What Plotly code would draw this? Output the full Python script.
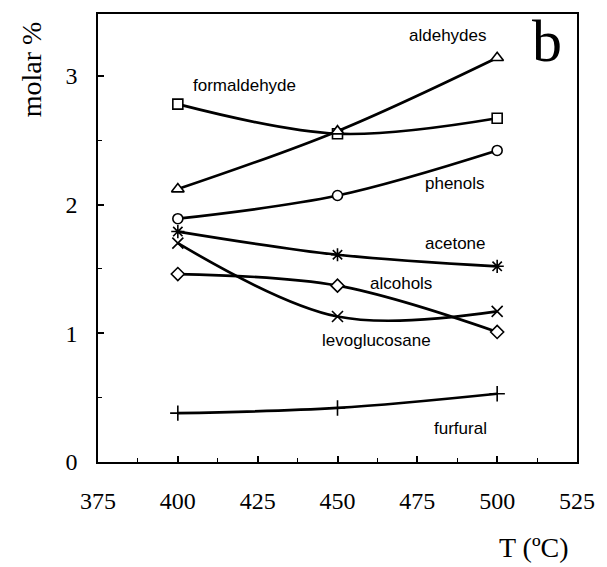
import plotly.graph_objects as go

temps = [400, 450, 500]
formaldehyde = [2.78, 2.55, 2.67]
aldehydes = [2.12, 2.57, 3.14]
phenols = [1.89, 2.07, 2.42]
acetone = [1.79, 1.61, 1.52]
levoglucosane = [1.70, 1.13, 1.17]
alcohols = [1.46, 1.37, 1.01]
furfural = [0.38, 0.42, 0.53]

series = [
    ("formaldehyde", formaldehyde, "square", 10),
    ("aldehydes", aldehydes, "triangle-up", 11),
    ("phenols", phenols, "circle", 10),
    ("acetone", acetone, "asterisk", 11),
    ("levoglucosane", levoglucosane, "x-thin", 11),
    ("alcohols", alcohols, "diamond", 10),
    ("furfural", furfural, "cross-thin", 11),
]

fig = go.Figure()
for name, vals, sym, sz in series:
    fig.add_trace(go.Scatter(
        x=temps, y=vals, mode="lines+markers", name=name,
        line=dict(color="black", width=2.7, shape="spline", smoothing=1.0),
        marker=dict(symbol=sym, size=sz, color="white",
                    line=dict(color="black", width=1.6)),
        showlegend=False,
    ))

labels = [
    ("aldehydes", 455, 35),
    ("formaldehyde", 248, 85),
    ("phenols", 462, 183),
    ("acetone", 463, 243),
    ("alcohols", 407, 283),
    ("levoglucosane", 382, 340),
    ("furfural", 468, 428),
]
annotations = []
for txt, px, py in labels:
    annotations.append(dict(
        text=txt, xref="paper", yref="paper",
        x=(px - 98) / (587 - 98), y=(462 - py) / (462 - 13),
        showarrow=False, xanchor="center", yanchor="middle",
        font=dict(family="Liberation Sans, Arial", size=17, color="black"),
    ))
annotations.append(dict(
    text="b", xref="paper", yref="paper",
    x=(556 - 98) / (587 - 98), y=(462 - 40) / (462 - 13),
    showarrow=False, xanchor="center", yanchor="middle",
    font=dict(family="Liberation Serif, Times New Roman", size=60, color="black"),
))
annotations.append(dict(
    text="T (ºC)", xref="paper", yref="paper",
    x=(543 - 98) / (587 - 98), y=(462 - 548) / (462 - 13),
    showarrow=False, xanchor="center", yanchor="middle",
    font=dict(family="Liberation Serif, Times New Roman", size=28, color="black"),
))
annotations.append(dict(
    text="molar %", xref="paper", yref="paper",
    x=(30 - 98) / (587 - 98), y=(462 - 68) / (462 - 13),
    showarrow=False, xanchor="center", yanchor="middle", textangle=-90,
    font=dict(family="Liberation Serif, Times New Roman", size=28, color="black"),
))

fig.update_layout(
    width=607, height=567,
    margin=dict(l=98, r=20, t=13, b=105),
    paper_bgcolor="white", plot_bgcolor="white",
    annotations=annotations,
    xaxis=dict(
        range=[375, 525], tickvals=[375, 400, 425, 450, 475, 500, 525],
        ticks="inside", ticklen=6, tickwidth=1.5, tickcolor="black",
        minor=dict(dtick=12.5, tick0=375, ticks="inside", ticklen=4, tickcolor="black", tickwidth=1.2),
        showline=True, linecolor="black", linewidth=1.5, mirror=True,
        showgrid=False, zeroline=False,
        tickfont=dict(family="Liberation Serif, Times New Roman", size=24, color="black"),
        ticklabelstandoff=16,
    ),
    yaxis=dict(
        range=[0, 3.48], tickvals=[0, 1, 2, 3],
        ticks="inside", ticklen=6, tickwidth=1.5, tickcolor="black",
        minor=dict(dtick=0.5, tick0=0, ticks="inside", ticklen=4, tickcolor="black", tickwidth=1.2),
        showline=True, linecolor="black", linewidth=1.5, mirror=True,
        showgrid=False, zeroline=False,
        tickfont=dict(family="Liberation Serif, Times New Roman", size=24, color="black"),
        ticklabelstandoff=14,
    ),
)

fig.write_html("out.html")
